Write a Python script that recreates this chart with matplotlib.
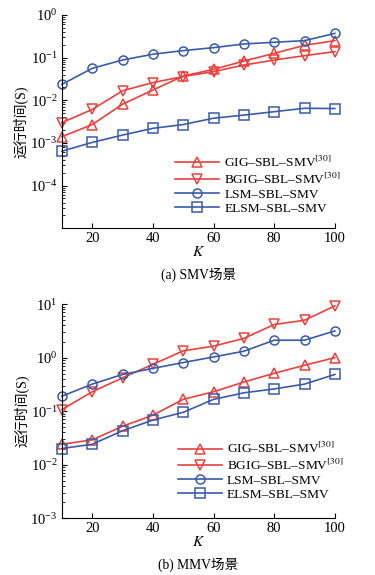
import numpy as np
import matplotlib
matplotlib.use("Agg")
import matplotlib.pyplot as plt

plt.rcParams['font.family'] = ['Liberation Serif', 'Noto Sans CJK SC']
plt.rcParams['mathtext.fontset'] = 'stix'

K = [10, 20, 30, 40, 50, 60, 70, 80, 90, 100]
labels = ['GIG\u2013SBL\u2013SMV$^{[30]}$', 'BGIG\u2013SBL\u2013SMV$^{[30]}$',
          'LSM\u2013SBL\u2013SMV', 'ELSM\u2013SBL\u2013SMV']

# (a) SMV
smv_gig = [0.0014, 0.0027, 0.0081, 0.0174, 0.037, 0.053, 0.083, 0.126, 0.194, 0.25]
smv_bgig = [0.003, 0.0061, 0.0167, 0.026, 0.036, 0.047, 0.067, 0.088, 0.111, 0.138]
smv_lsm = [0.0236, 0.056, 0.088, 0.12, 0.146, 0.171, 0.209, 0.229, 0.25, 0.37]
smv_elsm = [0.00064, 0.00103, 0.00153, 0.0022, 0.0027, 0.0038, 0.0045, 0.0054, 0.0065, 0.0064]

# (b) MMV
mmv_gig = [0.024, 0.029, 0.052, 0.084, 0.166, 0.23, 0.35, 0.51, 0.72, 1.0]
mmv_bgig = [0.107, 0.23, 0.42, 0.75, 1.34, 1.64, 2.29, 4.17, 5.0, 9.3]
mmv_lsm = [0.19, 0.32, 0.485, 0.63, 0.81, 1.03, 1.32, 2.12, 2.12, 3.16]
mmv_elsm = [0.020, 0.024, 0.043, 0.068, 0.095, 0.166, 0.22, 0.26, 0.32, 0.485]

red = '#e8413e'
blue = '#3b5ba9'
styles = [(red, '^'), (red, 'v'), (blue, 'o'), (blue, 's')]

fig = plt.figure(figsize=(3.75, 5.75), dpi=100)
ax1 = fig.add_axes([0.165, 0.603, 0.728, 0.371])
ax2 = fig.add_axes([0.165, 0.099, 0.728, 0.372])


def draw(ax, series, ylim, yticks, anchor, caption):
    for ys, (c, m), lab in zip(series, styles, labels):
        ax.plot(K, ys, color=c, marker=m, markersize=6.5, markerfacecolor='none',
                markeredgewidth=1.1, linewidth=1.2, label=lab, clip_on=False)
    ax.set_yscale('log')
    ax.set_xlim(10, 100)
    ax.set_ylim(*ylim)
    ax.set_yticks(yticks)
    ax.set_xticks([20, 40, 60, 80, 100])
    ax.spines['top'].set_visible(False)
    ax.spines['right'].set_visible(False)
    ax.tick_params(direction='in', labelsize=10.5, length=3.5, pad=3)
    ax.tick_params(which='minor', direction='in', length=2)
    ax.set_ylabel('运行时间(S)', fontsize=10, labelpad=1)
    ax.set_xlabel('$K$', fontsize=11, labelpad=0)
    ax.legend(loc='upper left', bbox_to_anchor=anchor, frameon=False, fontsize=9.6,
              handlelength=3.3, handletextpad=0.4, labelspacing=0.12, borderpad=0)
    ax.text(0.5, -0.185, caption, transform=ax.transAxes, ha='center', va='top', fontsize=9.8)


draw(ax1, [smv_gig, smv_bgig, smv_lsm, smv_elsm], (1e-5, 1), [1e0, 1e-1, 1e-2, 1e-3, 1e-4],
     (0.39, 0.375), '(a) SMV场景')
draw(ax2, [mmv_gig, mmv_bgig, mmv_lsm, mmv_elsm], (1e-3, 10), [1e1, 1e0, 1e-1, 1e-2, 1e-3],
     (0.4, 0.39), '(b) MMV场景')

fig.savefig('out.png', dpi=100)
